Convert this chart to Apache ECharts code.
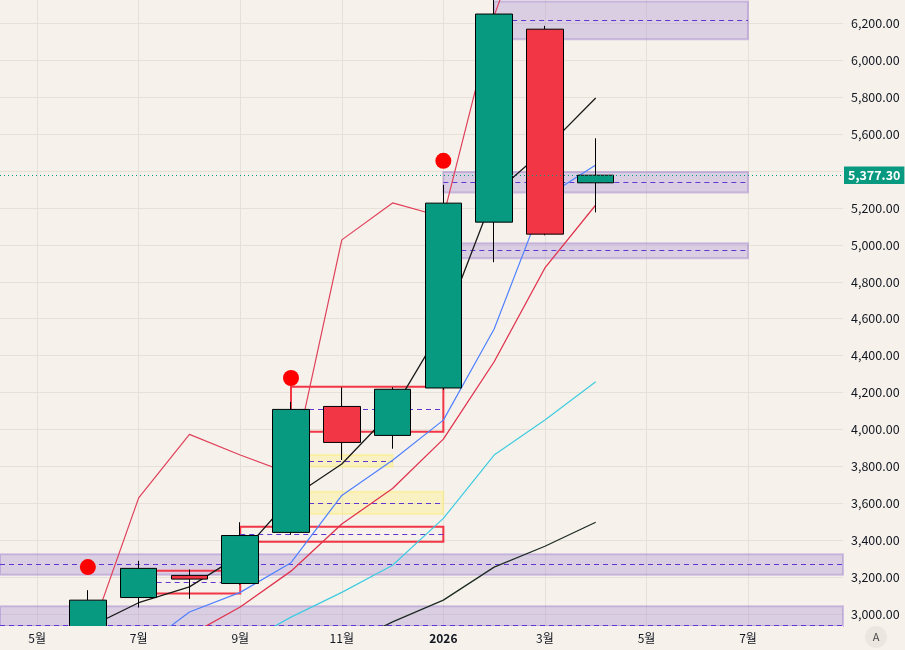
<!DOCTYPE html>
<html>
<head>
<meta charset="utf-8">
<script src="https://cdn.jsdelivr.net/npm/echarts@6/dist/echarts.min.js"></script>
<style>
  html, body { margin: 0; padding: 0; background: #f6f2eb; }
  #chart { width: 905px; height: 650px; }
</style>
</head>
<body>
<div id="chart"></div>
<script>
// x position = month index, 0 = 2025-05
const monthLabels = ["5월", "6월", "7월", "8월", "9월", "10월", "11월", "12월", "2026", "2월", "3월", "4월", "5월", "6월", "7월", "8월", "9월"];
const labelMonths = [0, 2, 4, 6, 8, 10, 12, 14];
const priceTicks = [3000, 3200, 3400, 3600, 3800, 4000, 4200, 4400, 4600, 4800, 5000, 5200, 5400, 5600, 5800, 6000, 6200];

// monthly candles Jun 2025 .. Apr 2026
const candleMonths = [1, 2, 3, 4, 5, 6, 7, 8, 9, 10, 11];
const opens  = [2700, 3090, 3210, 3166, 3443, 4125, 3968, 4225, 5123, 6168, 5336];
const closes = [3076, 3248, 3190, 3426, 4109, 3930, 4218, 5226, 6250, 5058, 5377.3];
const lows   = [2650, 3036, 3083, 3160, 3430, 3835, 3896, 4215, 4906, 5052, 5176];
const highs  = [3130, 3289, 3242, 3498, 4149, 4228, 4229, 5325, 6500, 6186, 5577];
const lastPrice = 5377.3;

// indicator lines (same months as candles)
const blackFast = [2927, 3062, 3148, 3320, 3629, 3813, 4100, 4561, 5276, 5517, 5795];
const blueLine  = [null, 2805, 3012, 3118, 3279, 3643, 3834, 4051, 4544, 5257, 5433];
const redLower  = [null, null, 2886, 3039, 3233, 3488, 3681, 3948, 4367, 4875, 5216];
const cyanLine  = [null, null, null, 2832, 2984, 3118, 3265, 3519, 3862, 4051, 4259];
const blackSlow = [null, null, null, null, null, 2822, 2958, 3076, 3255, 3368, 3498];
const redUpper  = [2850, 3630, 3974, 3862, 3760, 5027, 5227, 5151, 6240, 7000, 7100];

// signal dots: [month, price]
const dots = [[1, 3255], [5, 4279], [8, 5455]];

const xMin = -0.7306, xMax = 15.87;
const yMin = 2936, yMax = 6326;

// zones: [fromMonth, toMonth, low, high]
const purpleZones = [
  [9, 14, 6114, 6318],
  [8, 14, 5283, 5394],
  [8, 14, 4928, 5009],
  [xMin, xMax, 3213, 3325],
  [xMin, xMax, 2840, 3043]
];
const redBoxes = [
  [5, 8, 3988, 4232],
  [4, 8, 3392, 3473],
  [2, 4, 3112, 3235]
];
const yellowZones = [
  [5, 7, 3798, 3862],
  [5, 8, 3542, 3663]
];

const pair = (m, arr) => arr.map((v, k) => [m[k], v]);

const zoneArea = (z, style) => [
  { coord: [z[0], Math.max(z[2], yMin)], itemStyle: style },
  { coord: [z[1], Math.min(z[3], yMax)] }
];
const purpleStyle = { color: "rgba(149,117,205,0.28)", borderColor: "rgba(149,117,205,0.4)", borderWidth: 2 };
const redStyle = { color: "rgba(0,0,0,0)", borderColor: "#f23645", borderWidth: 2 };
const yellowStyle = { color: "rgba(255,238,100,0.3)", borderColor: "rgba(255,238,100,0.4)", borderWidth: 2 };

const areas = []
  .concat(purpleZones.map(z => zoneArea(z, purpleStyle)))
  .concat(yellowZones.map(z => zoneArea(z, yellowStyle)))
  .concat(redBoxes.map(z => zoneArea(z, redStyle)));

const midLines = purpleZones.concat(redBoxes, yellowZones).map(z => [
  { coord: [z[0], (z[2] + z[3]) / 2] },
  { coord: [z[1], (z[2] + z[3]) / 2] }
]);

const fmt = v => v.toLocaleString("en-US", { minimumFractionDigits: 2, maximumFractionDigits: 2 });
const font = "'Noto Sans CJK KR', 'Noto Sans', sans-serif";

const thinLine = (data, color, width) => ({
  type: "line",
  data: data,
  symbol: "none",
  z: 3,
  clip: true,
  lineStyle: { color: color, width: width || 1.2 },
  silent: true
});

const option = {
  backgroundColor: "#f6f2eb",
  animation: false,
  grid: { left: 0, right: 62, top: 0, bottom: 24 },
  xAxis: [
    {
      type: "value",
      min: xMin,
      max: xMax,
      axisLine: { show: false },
      axisTick: { show: false, customValues: labelMonths },
      axisLabel: { show: false },
      splitLine: { show: true, lineStyle: { color: "#e6e1d8", width: 1 } }
    },
    {
      // label-only axis drawn above the strip that hides candle overflow
      type: "value",
      position: "bottom",
      z: 10,
      min: xMin,
      max: xMax,
      axisLine: { show: false },
      axisTick: { show: false, customValues: labelMonths },
      splitLine: { show: false },
      axisLabel: {
        customValues: labelMonths,
        margin: 6,
        color: "#131722",
        fontSize: 12,
        fontFamily: font,
        formatter: v => {
          const s = monthLabels[Math.round(v)];
          return /^\d{4}$/.test(s) ? "{b|" + s + "}" : s;
        },
        rich: { b: { fontWeight: "bold", fontSize: 12, color: "#131722", fontFamily: font } }
      }
    }
  ],
  yAxis: {
    type: "value",
    position: "right",
    min: yMin,
    max: yMax,
    axisLine: { show: false },
    axisTick: { show: false, customValues: priceTicks },
    axisLabel: {
      customValues: priceTicks,
      margin: 8,
      color: "#131722",
      fontSize: 12.5,
      fontFamily: font,
      formatter: fmt
    },
    splitLine: { show: true, lineStyle: { color: "#e6e1d8", width: 1 } }
  },
  graphic: [
    { type: "rect", z: 7, shape: { x: 0, y: 626, width: 843, height: 24 }, style: { fill: "#f6f2eb" }, silent: true },
    { type: "circle", z: 8, shape: { cx: 876, cy: 637, r: 11 }, style: { fill: "#ebe7df" } },
    { type: "text", z: 8, x: 876, y: 637, style: { text: "A", fill: "#4a4a4a", fontSize: 11, fontFamily: font, align: "center", verticalAlign: "middle" } }
  ],
  series: [
    {
      type: "line",
      data: [],
      silent: true,
      markArea: { silent: true, z: 1, data: areas },
      markLine: {
        silent: true,
        z: 1.5,
        symbol: "none",
        label: { show: false },
        lineStyle: { color: "#6236d0", type: [5, 4], width: 1 },
        data: midLines
      }
    },
    thinLine(pair(candleMonths, blackSlow), "#1d2b25", 1.3),
    thinLine(pair(candleMonths, cyanLine), "#3fcbe0", 1.2),
    thinLine(pair(candleMonths, redLower), "#e0344f", 1.3),
    thinLine(pair(candleMonths, blueLine), "#4f80ff", 1.2),
    thinLine(pair(candleMonths, redUpper), "#e0405a", 1.2),
    thinLine(pair(candleMonths, blackFast), "#1b1b1b", 1.3),
    {
      type: "candlestick",
      z: 5,
      clip: true,
      barWidth: 37,
      encode: { x: 0, y: [1, 2, 3, 4] },
      data: candleMonths.map((m, k) => [m, opens[k], closes[k], lows[k], highs[k]]),
      itemStyle: {
        color: "#089981",
        color0: "#f23645",
        borderColor: "#000",
        borderColor0: "#000",
        borderWidth: 1
      }
    },
    {
      type: "scatter",
      z: 6,
      data: dots,
      symbolSize: 16,
      itemStyle: { color: "#ff0000", opacity: 1 }
    },
    {
      type: "line",
      data: [],
      markLine: {
        silent: true,
        z: 8,
        symbol: "none",
        lineStyle: { color: "#089981", type: [1, 3], width: 1 },
        label: {
          show: true,
          position: "end",
          distance: 1,
          formatter: () => fmt(lastPrice),
          backgroundColor: "#089981",
          color: "#fff",
          fontWeight: "bold",
          fontSize: 12.5,
          fontFamily: font,
          padding: [3, 4, 2, 4]
        },
        data: [{ yAxis: lastPrice }]
      }
    }
  ]
};

const myChart = echarts.init(document.getElementById("chart"));
myChart.setOption(option);
</script>
</body>
</html>
